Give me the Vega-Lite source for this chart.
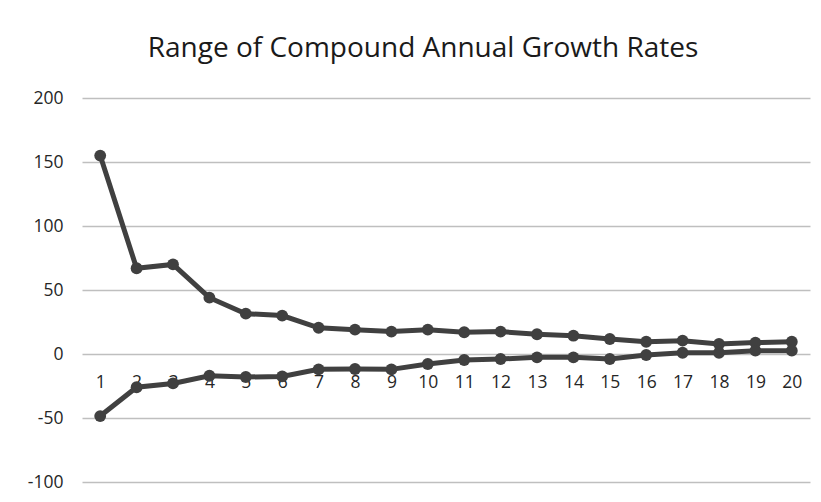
{
  "$schema": "https://vega.github.io/schema/vega-lite/v6.json",
  "autosize": {"type": "none"},
  "padding": {"left": 82, "top": 98, "right": 11, "bottom": 20},
  "width": 728,
  "height": 384,
  "background": "white",
  "title": {
    "text": "Range of Compound Annual Growth Rates",
    "font": "Open Sans",
    "fontSize": 28,
    "fontWeight": "normal",
    "color": "#1a1a1a",
    "anchor": "middle",
    "baseline": "alphabetic",
    "offset": 40,
    "dy": 36,
    "dx": -23
  },
  "config": {
    "view": {"stroke": null},
    "axis": {
      "labelFont": "Open Sans",
      "labelFontSize": 17.5,
      "labelColor": "#262626",
      "title": null
    }
  },
  "data": {
    "values": [
      {"year": 1, "series": "max", "value": 155},
      {"year": 2, "series": "max", "value": 67},
      {"year": 3, "series": "max", "value": 70},
      {"year": 4, "series": "max", "value": 44},
      {"year": 5, "series": "max", "value": 31.5},
      {"year": 6, "series": "max", "value": 30},
      {"year": 7, "series": "max", "value": 20.5},
      {"year": 8, "series": "max", "value": 19},
      {"year": 9, "series": "max", "value": 17.5},
      {"year": 10, "series": "max", "value": 19},
      {"year": 11, "series": "max", "value": 17},
      {"year": 12, "series": "max", "value": 17.5},
      {"year": 13, "series": "max", "value": 15.4},
      {"year": 14, "series": "max", "value": 14.3},
      {"year": 15, "series": "max", "value": 11.7},
      {"year": 16, "series": "max", "value": 9.6},
      {"year": 17, "series": "max", "value": 10.4},
      {"year": 18, "series": "max", "value": 7.8},
      {"year": 19, "series": "max", "value": 8.9},
      {"year": 20, "series": "max", "value": 9.6},
      {"year": 1, "series": "min", "value": -48.5},
      {"year": 2, "series": "min", "value": -26},
      {"year": 3, "series": "min", "value": -23},
      {"year": 4, "series": "min", "value": -17},
      {"year": 5, "series": "min", "value": -18},
      {"year": 6, "series": "min", "value": -17.5},
      {"year": 7, "series": "min", "value": -12},
      {"year": 8, "series": "min", "value": -11.7},
      {"year": 9, "series": "min", "value": -12},
      {"year": 10, "series": "min", "value": -7.8},
      {"year": 11, "series": "min", "value": -4.7},
      {"year": 12, "series": "min", "value": -3.9},
      {"year": 13, "series": "min", "value": -2.6},
      {"year": 14, "series": "min", "value": -2.6},
      {"year": 15, "series": "min", "value": -3.9},
      {"year": 16, "series": "min", "value": -0.8},
      {"year": 17, "series": "min", "value": 1},
      {"year": 18, "series": "min", "value": 1},
      {"year": 19, "series": "min", "value": 2.6},
      {"year": 20, "series": "min", "value": 2.6}
    ]
  },
  "mark": {
    "type": "line",
    "color": "#404040",
    "strokeWidth": 5,
    "point": {"filled": true, "size": 140, "color": "#404040", "opacity": 1}
  },
  "encoding": {
    "x": {
      "field": "year",
      "type": "ordinal",
      "sort": null,
      "scale": {"type": "point", "padding": 0.5},
      "axis": {
        "orient": "bottom",
        "offset": -128,
        "domain": false,
        "ticks": false,
        "tickSize": 0,
        "labelPadding": 19,
        "labelAngle": 0,
        "grid": false
      }
    },
    "y": {
      "field": "value",
      "type": "quantitative",
      "scale": {"domain": [-100, 200], "nice": false, "zero": false},
      "axis": {
        "values": [-100, -50, 0, 50, 100, 150, 200],
        "labelExpr": "toString(datum.value)",
        "domain": false,
        "ticks": false,
        "tickSize": 0,
        "labelPadding": 19,
        "grid": true,
        "gridColor": "#bfbfbf",
        "gridWidth": 1.5
      }
    },
    "detail": {"field": "series", "type": "nominal"}
  }
}
